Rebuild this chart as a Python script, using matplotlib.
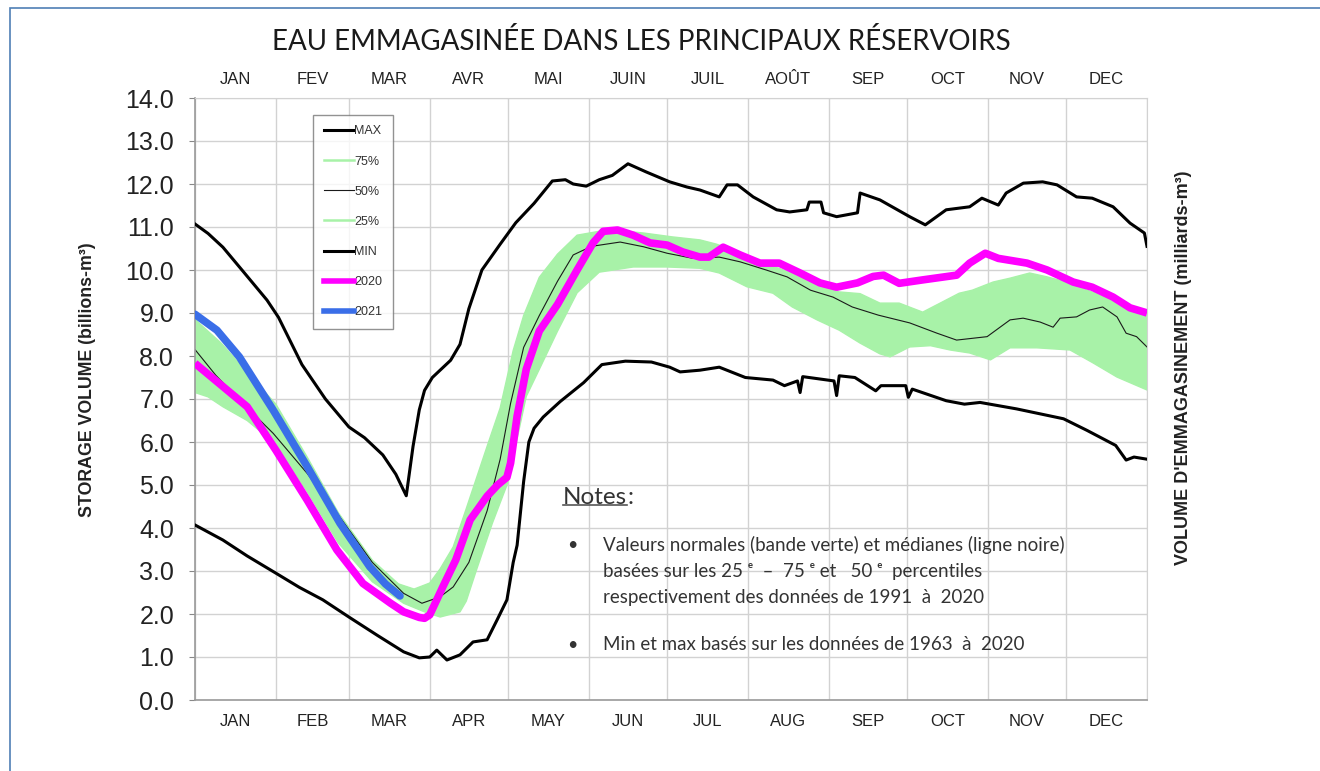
import matplotlib
matplotlib.use("Agg")
import matplotlib.pyplot as plt
from matplotlib.lines import Line2D
from matplotlib.patches import Rectangle

plt.rcParams['font.family'] = ['Liberation Sans', 'DejaVu Sans']

# all series: day of year -> storage volume (billions m3)
max_days = [0, 5, 10.7, 18, 27.6, 32, 41, 50, 59, 65, 72, 77, 81, 83.6, 86, 88, 91, 98,
            101.6, 105, 110, 117, 123, 130, 137, 142, 145, 150, 155, 160, 166, 173, 182,
            188.6, 193.6, 201, 204, 208, 214, 223, 228, 234.6, 235.5, 240, 241, 246, 254,
            255, 262.6, 274, 280, 288, 297, 301.7, 308, 311, 317.6, 325, 330.5, 338, 344,
            352, 358.5, 364, 365]
max_vals = [11.07, 10.85, 10.53, 10.0, 9.3, 8.9, 7.8, 7.0, 6.35, 6.1, 5.7, 5.25, 4.75, 5.9,
            6.75, 7.2, 7.5, 7.9, 8.27, 9.1, 10.0, 10.6, 11.1, 11.55, 12.07, 12.1, 12.0, 11.95,
            12.1, 12.2, 12.47, 12.28, 12.05, 11.93, 11.86, 11.7, 11.98, 11.98, 11.7, 11.4,
            11.35, 11.4, 11.58, 11.58, 11.33, 11.24, 11.33, 11.79, 11.63, 11.24, 11.05, 11.4,
            11.47, 11.67, 11.51, 11.79, 12.02, 12.05, 11.98, 11.7, 11.67, 11.47, 11.09,
            10.86, 10.55]

min_days = [0, 10.7, 20, 31, 40, 49, 59, 70, 80, 86, 90, 92.7, 96.6, 101.6, 106.6, 112,
            115.8, 119.6, 122, 123.5, 126, 128, 130, 133.5, 140, 149, 156, 165, 175, 182,
            186, 193.6, 201, 211, 221.6, 226, 231, 232, 233, 245, 246, 247, 253, 261, 263,
            272.5, 273.5, 275, 288, 295, 301, 315, 333, 342, 353, 357, 360, 365]
min_vals = [4.07, 3.72, 3.35, 2.95, 2.62, 2.33, 1.93, 1.5, 1.12, 0.98, 1.0, 1.16, 0.93, 1.05,
            1.35, 1.4, 1.86, 2.33, 3.2, 3.6, 5.08, 6.0, 6.32, 6.58, 6.94, 7.38, 7.8, 7.88,
            7.86, 7.74, 7.63, 7.67, 7.74, 7.5, 7.44, 7.31, 7.42, 7.15, 7.52, 7.42, 7.08,
            7.54, 7.5, 7.19, 7.31, 7.31, 7.04, 7.23, 6.96, 6.88, 6.92, 6.77, 6.54, 6.27,
            5.92, 5.58, 5.65, 5.6]

p50_days = [0, 8, 17, 30, 43, 55, 68, 80, 87, 94, 99, 105, 112, 117, 121, 126, 132, 139,
            145, 152, 163, 172, 181, 191, 201, 209, 219, 227, 236, 244.6, 252, 262, 274,
            284.5, 292, 303.7, 312.5, 317.5, 324, 329, 331.7, 338, 343, 348, 353.5, 357,
            361, 365]
p50_vals = [8.15, 7.55, 6.98, 6.2, 5.27, 4.3, 3.2, 2.48, 2.25, 2.4, 2.63, 3.2, 4.4, 5.6, 6.9,
            8.2, 8.94, 9.74, 10.35, 10.55, 10.65, 10.54, 10.39, 10.27, 10.3, 10.19, 10.0,
            9.84, 9.53, 9.37, 9.14, 8.95, 8.77, 8.53, 8.37, 8.45, 8.84, 8.88, 8.79, 8.67,
            8.88, 8.91, 9.07, 9.14, 8.91, 8.53, 8.45, 8.21]

p75_days = [0, 10, 20, 31, 43, 55, 68, 78, 84, 90, 94, 99, 104, 112, 117, 122, 126, 132,
            139, 146.5, 155, 165, 172, 183, 193.6, 200, 209, 216, 224, 232, 239.6, 247,
            255, 262.6, 270, 279, 285.7, 293, 298, 306, 312.5, 320, 326.7, 334, 342, 349.7,
            357.4, 365]
p75_vals = [8.85, 8.3, 7.62, 6.88, 5.65, 4.35, 3.25, 2.7, 2.58, 2.72, 3.05, 3.56, 4.45, 5.9,
            6.79, 8.13, 8.94, 9.83, 10.37, 10.81, 10.9, 10.9, 10.86, 10.77, 10.7, 10.6,
            10.39, 10.16, 10.04, 9.84, 9.61, 9.49, 9.45, 9.23, 9.23, 9.02, 9.23, 9.46, 9.53,
            9.72, 9.81, 9.93, 9.84, 9.72, 9.53, 9.37, 9.14, 8.95]

p25_days = [0, 5, 10.7, 20, 31, 43, 55, 68, 80, 88, 94, 101.6, 104, 108, 114, 119.6, 123.5,
            127, 132, 139, 146.5, 155, 168, 181, 193.6, 201, 211.6, 221.6, 229, 238.5, 247,
            255, 262.6, 266.5, 274, 282, 289.5, 297, 305, 312.5, 322.8, 335.5, 344.3, 353.5,
            365]
p25_vals = [7.15, 7.05, 6.82, 6.5, 5.95, 4.85, 3.65, 2.75, 2.25, 2.05, 1.93, 2.05, 2.3, 3.04,
            4.11, 5.0, 6.08, 7.06, 7.69, 8.58, 9.47, 9.95, 10.07, 10.07, 10.04, 9.93, 9.61,
            9.46, 9.14, 8.84, 8.6, 8.3, 8.05, 7.98, 8.21, 8.24, 8.14, 8.07, 7.91, 8.19, 8.19,
            8.14, 7.84, 7.51, 7.21]

y2020_days = [0, 10.7, 20, 31, 43, 54.4, 64.4, 75, 80, 86, 88, 90, 95, 100, 105.5, 112, 116,
              119.6, 121, 123.5, 127, 132, 139, 146.5, 152.6, 156.5, 162, 168, 174.5, 181,
              187, 193.6, 197, 202.5, 209, 216.6, 224, 232, 239.6, 246, 254, 260, 264, 270,
              279, 292, 297, 303, 308, 319, 326.7, 336.7, 344, 352, 358.5, 364, 365]
y2020_vals = [7.83, 7.29, 6.82, 5.81, 4.65, 3.49, 2.71, 2.25, 2.05, 1.92, 1.9, 1.98, 2.63,
              3.26, 4.19, 4.74, 5.0, 5.18, 5.51, 6.6, 7.69, 8.58, 9.2, 10.0, 10.63, 10.9,
              10.93, 10.81, 10.63, 10.58, 10.42, 10.3, 10.3, 10.53, 10.35, 10.16, 10.16, 9.93,
              9.7, 9.6, 9.7, 9.85, 9.88, 9.69, 9.77, 9.88, 10.16, 10.39, 10.27, 10.16, 10.0,
              9.72, 9.6, 9.37, 9.12, 9.02, 9.0]

y2021_days = [0, 8.4, 17, 30, 43, 55.6, 67, 73, 78.6]
y2021_vals = [8.97, 8.6, 7.98, 6.74, 5.43, 4.11, 3.1, 2.7, 2.42]

month_starts = [0, 31, 59, 90, 120, 151, 181, 212, 243, 273, 304, 334, 365]
months_en = ["JAN", "FEB", "MAR", "APR", "MAY", "JUN", "JUL", "AUG", "SEP", "OCT", "NOV", "DEC"]
months_fr = ["JAN", "FEV", "MAR", "AVR", "MAI", "JUIN", "JUIL", "AOÛT", "SEP", "OCT", "NOV", "DEC"]
y_ticks = [i * 1.0 for i in range(15)]

W, H = 1320, 771
green = '#a8f2a8'
fig = plt.figure(figsize=(W / 100, H / 100), dpi=100)
ax = fig.add_axes([195 / W, 1 - 700 / H, (1147 - 195) / W, (700 - 98) / H])

# band + percentile lines
ax.fill(p75_days + p25_days[::-1], p75_vals + p25_vals[::-1], color=green, lw=0, zorder=1)
ax.plot(p75_days, p75_vals, color=green, lw=1, zorder=1.5, label='75%')
ax.plot(p50_days, p50_vals, color='#1a1a1a', lw=0.8, zorder=2, label='50%')
ax.plot(p25_days, p25_vals, color=green, lw=1, zorder=1.5, label='25%')
ax.plot(max_days, max_vals, color='black', lw=2.2, zorder=3, label='MAX')
ax.plot(min_days, min_vals, color='black', lw=2.2, zorder=3, label='MIN')
ax.plot(y2020_days, y2020_vals, color='#ff00ff', lw=5.5, zorder=4, label='2020',
        solid_capstyle='butt')
ax.plot(y2021_days, y2021_vals, color='#3a6ee8', lw=5.5, zorder=5, label='2021',
        solid_capstyle='round')

ax.set_xlim(0, 365)
ax.set_ylim(0, 14)

# month grid at boundaries, labels at mid-month
mids = [(month_starts[i] + month_starts[i + 1]) / 2 for i in range(12)]
ax.set_xticks(month_starts, minor=True)
ax.set_xticks(mids)
ax.set_xticklabels(months_en, fontsize=12, color='#222222')
ax.tick_params(axis='x', which='both', length=0, pad=10)
ax.grid(True, which='minor', axis='x', color='#d2d2d2', lw=1)
ax.set_yticks(y_ticks)
ax.set_yticklabels([f"{v:.1f}" for v in y_ticks], fontsize=18, color='#222222')
ax.tick_params(axis='y', length=4, color='#888888', pad=11)
ax.grid(True, which='major', axis='y', color='#d2d2d2', lw=1)
ax.set_axisbelow(True)
for side in ['top', 'right']:
    ax.spines[side].set_color('#d2d2d2')
for side in ['left', 'bottom']:
    ax.spines[side].set_color('#9a9a9a')
    ax.spines[side].set_linewidth(1.2)

top = ax.secondary_xaxis('top')
top.set_xticks(mids)
top.set_xticklabels(months_fr, fontsize=12, color='#222222')
top.tick_params(length=0, pad=8)
top.spines['top'].set_visible(False)

# legend
order = ['MAX', '75%', '50%', '25%', 'MIN', '2020', '2021']
leg_widths = {'MAX': 2.2, '75%': 1.8, '50%': 0.8, '25%': 1.8, 'MIN': 2.2, '2020': 4, '2021': 4}
handles, labels = ax.get_legend_handles_labels()
lookup = dict(zip(labels, handles))
leg_handles = [Line2D([], [], color=lookup[n].get_color(), lw=leg_widths[n]) for n in order]
leg = ax.legend(leg_handles, order, loc='upper left', bbox_to_anchor=(0.124, 0.972),
                fontsize=9, frameon=True, fancybox=False, edgecolor='#777777',
                handlelength=2.4, handletextpad=0.05, labelspacing=1.45, borderpad=0.85,
                borderaxespad=0)
leg.get_frame().set_linewidth(1)
for t in leg.get_texts():
    t.set_color('#333333')
leg.set_zorder(6)

# titles and axis labels
fig.text(641 / W, 1 - 42 / H, "EAU EMMAGASINÉE DANS LES PRINCIPAUX RÉSERVOIRS",
         ha='center', va='center', fontsize=20, color='#1a1a1a',
         family=['Lato', 'DejaVu Sans'])
fig.text(88 / W, 1 - 380 / H, "STORAGE VOLUME (billions-m³)", rotation=90,
         ha='center', va='center', fontsize=12.8, fontweight='bold', color='#222222')
fig.text(1183 / W, 1 - 368 / H, "VOLUME D'EMMAGASINEMENT (milliards-m³)", rotation=90,
         ha='center', va='center', fontsize=13, fontweight='bold', color='#222222')

# notes
note_font = ['Lato', 'DejaVu Sans']
nt = fig.text(563 / W, 1 - 497 / H, "Notes", ha='left', va='center', fontsize=17.5,
              color='#333333', family=note_font)
fig.canvas.draw()
bb = nt.get_window_extent()
fig.text(bb.x1 / W, 1 - 497 / H, ":", ha='left', va='center', fontsize=17.5,
         color='#333333', family=note_font)
fig.add_artist(Line2D([bb.x0 / W, bb.x1 / W], [(bb.y0 + 3) / H, (bb.y0 + 3) / H],
                      color='#555555', lw=1.2))
note_lines = [
    (545, "•", "Valeurs normales (bande verte) et médianes (ligne noire)"),
    (572, "", "basées sur les 25 ᵉ  –  75 ᵉ et   50 ᵉ  percentiles"),
    (598, "", "respectivement des données de 1991  à  2020"),
    (645, "•", "Min et max basés sur les données de 1963  à  2020"),
]
for ypix, bullet, txt in note_lines:
    if bullet:
        fig.text(567 / W, 1 - ypix / H, bullet, ha='left', va='center', fontsize=13,
                 color='#333333', family=note_font)
    fig.text(603 / W, 1 - ypix / H, txt, ha='left', va='center', fontsize=13.5,
             color='#333333', family=note_font)

# slide frame (top and left edges visible)
fig.add_artist(Rectangle((10 / W, -0.05), 1.1, 1 - 8 / H + 0.05,
                         transform=fig.transFigure, fill=False, edgecolor='#4f7fb5',
                         lw=1.2))

fig.savefig("out.png", dpi=100)
